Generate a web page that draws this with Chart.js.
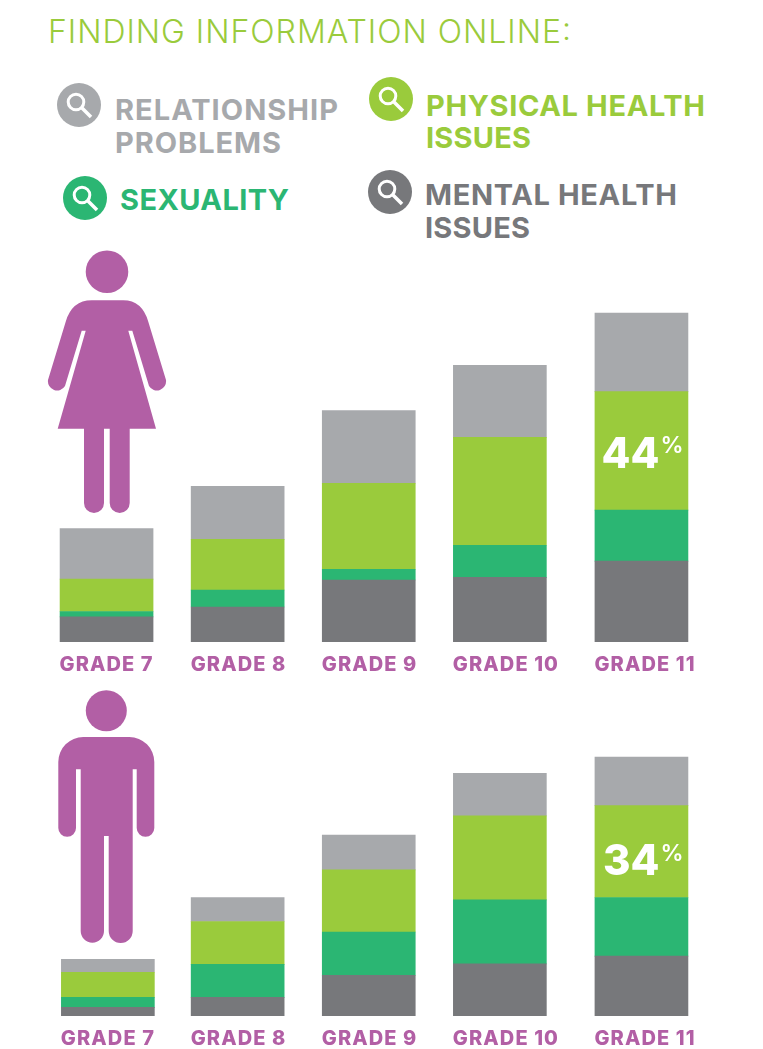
<!DOCTYPE html>
<html lang="en">
<head>
<meta charset="UTF-8">
<title>Finding information online</title>
<script src="https://cdn.jsdelivr.net/npm/chart.js"></script>
<style>
  html, body { margin: 0; padding: 0; background: #fff; overflow: hidden; }
  #page { position: relative; width: 763px; height: 1049px; overflow: hidden; }
  #page canvas { position: absolute; left: 0; }
  #art { position: absolute; left: 0; top: 0; }
  #art text { font-family: Inter, sans-serif; font-weight: 700; }
  #art .title { font-weight: 300; }
</style>
</head>
<body>
<div id="page">
  <svg id="art" width="763" height="1049">
    <defs>
      <g id="lens">
        <circle r="22" fill="currentColor"/>
        <circle cx="-3" cy="-3" r="7.8" fill="none" stroke="#fff" stroke-width="3"/>
        <path d="M3 3 L12 12" stroke="#fff" stroke-width="3.6" fill="none"/>
      </g>
    </defs>

    <text class="title" x="48" y="43" font-size="32" fill="#9acb3c" textLength="523" lengthAdjust="spacing">FINDING INFORMATION ONLINE:</text>

    <use href="#lens" x="79" y="105" color="#a7a9ac"/>
    <text x="115" y="120" font-size="29" fill="#a7a9ac" textLength="223" lengthAdjust="spacing">RELATIONSHIP</text>
    <text x="115" y="153" font-size="29" fill="#a7a9ac" textLength="166" lengthAdjust="spacing">PROBLEMS</text>

    <use href="#lens" x="391" y="99" color="#9acb3c"/>
    <text x="426" y="116" font-size="29" fill="#9acb3c" textLength="279" lengthAdjust="spacing">PHYSICAL HEALTH</text>
    <text x="426" y="148" font-size="29" fill="#9acb3c" textLength="105" lengthAdjust="spacing">ISSUES</text>

    <use href="#lens" x="85" y="198" color="#2bb673"/>
    <text x="120" y="210" font-size="29" fill="#2bb673" textLength="169" lengthAdjust="spacing">SEXUALITY</text>

    <use href="#lens" x="390" y="192" color="#77787b"/>
    <text x="425" y="205" font-size="29" fill="#77787b" textLength="252" lengthAdjust="spacing">MENTAL HEALTH</text>
    <text x="425" y="238" font-size="29" fill="#77787b" textLength="105" lengthAdjust="spacing">ISSUES</text>

    <!-- girl -->
    <circle cx="107" cy="271.7" r="21.3" fill="#b25fa5"/>
    <path fill="#b25fa5" d="M91.7 300.3 H123.3 Q142 300.3 148.3 321.7 L166 380 A9.2 9.2 0 0 1 149 386 L132.3 330.7 H128.3 L156 428.7 H129.7 V503 A10 10 0 0 1 109.7 503 V428.7 H104 V503 A10 10 0 0 1 84 503 V428.7 H57.7 L85.7 330.7 H81.7 L65 386 A9.2 9.2 0 0 1 48 380 L65.7 321.7 Q72 300.3 91.7 300.3 Z"/>

    <!-- boy -->
    <circle cx="106.3" cy="710.7" r="20.5" fill="#b25fa5"/>
    <path fill="#b25fa5" d="M83.3 737 H129.3 A25 25 0 0 1 154.3 762 V828 A8.8 8.8 0 0 1 136.7 828 V769.3 H132.7 V931 A12 12 0 0 1 108.7 931 V836 H104 V931 A11.65 11.65 0 0 1 80.7 931 V769.3 H76 V828 A8.85 8.85 0 0 1 58.3 828 V762 A25 25 0 0 1 83.3 737 Z"/>
  </svg>

  <canvas id="girlsChart" width="763" height="376" style="top:304px"></canvas>
  <canvas id="boysChart" width="763" height="303" style="top:746px"></canvas>
</div>

<script>
  const grades = ["GRADE 7", "GRADE 8", "GRADE 9", "GRADE 10", "GRADE 11"];
  const seriesNames = ["Mental health issues", "Sexuality", "Physical health issues", "Relationship problems"];

  // percent of students, stacked bottom to top
  const girlsMental = [9.3, 13, 23, 24, 30];
  const girlsSexuality = [2, 6.3, 4, 11.9, 18.9];
  const girlsPhysical = [12, 18.8, 31.9, 40, 44];
  const girlsRelationship = [18.8, 19.7, 27, 26.7, 29.1];

  const boysMental = [3.2, 6.9, 15.1, 19.3, 22.2];
  const boysSexuality = [3.7, 12.2, 16, 23.7, 21.7];
  const boysPhysical = [9.3, 15.9, 23, 31.1, 34];
  const boysRelationship = [4.8, 8.9, 12.9, 15.8, 18];

  // grade 11 sits a little further along in the original
  const girlsSlots = [0, 1, 2, 3, 4.08];
  const boysSlots = [0.01, 1, 2, 3, 4.08];

  const colors = ["#77787b", "#2bb673", "#9acb3c", "#a7a9ac"];
  const purple = "#b25fa5";

  // draws the white "44%" on the physical health part of grade 11
  const calloutPlugin = {
    id: "callout",
    beforeDraw(chart) {
      chart.ctx.letterSpacing = "1.1px"; // tick labels are wider in the original
    },
    afterDatasetsDraw(chart, args, opts) {
      const bar = chart.getDatasetMeta(2).data[4];
      const value = chart.data.datasets[2].data[4].y;
      const ctx = chart.ctx;
      ctx.save();
      ctx.letterSpacing = "0px";
      ctx.fillStyle = "#fff";
      ctx.textBaseline = "alphabetic";
      ctx.textAlign = "right";
      ctx.font = "800 42px Inter, sans-serif";
      ctx.fillText(Math.round(value), bar.x + 18, bar.y + opts.numberDy);
      ctx.textAlign = "left";
      ctx.font = "600 23px Inter, sans-serif";
      ctx.fillText("%", bar.x + 19, bar.y + opts.percentDy);
      ctx.restore();
    },
  };

  function makeChart(id, slots, rows, yMax, axisHeight, callout) {
    new Chart(document.getElementById(id), {
      type: "bar",
      data: {
        datasets: rows.map((values, s) => ({
          label: seriesNames[s],
          data: values.map((v, i) => ({ x: slots[i], y: v })),
          backgroundColor: colors[s],
          borderWidth: 0,
          barThickness: 93,
        })),
      },
      plugins: [calloutPlugin],
      options: {
        responsive: false,
        animation: false,
        layout: { padding: { left: 41, right: 56, top: 0, bottom: 0 } },
        plugins: {
          legend: { display: false },
          tooltip: { enabled: false },
          callout: callout,
        },
        scales: {
          x: {
            type: "linear",
            stacked: true,
            offset: false,
            min: -0.5,
            max: 4.58,
            grid: { display: false, drawTicks: false },
            border: { display: false },
            afterBuildTicks: (scale) => {
              scale.ticks = slots.map((value) => ({ value }));
            },
            afterFit: (scale) => {
              scale.height = axisHeight;
            },
            ticks: {
              callback: (value, i) => grades[i],
              autoSkip: false,
              maxRotation: 0,
              minRotation: 0,
              align: "start",
              labelOffset: -47,
              padding: 11,
              color: purple,
              font: { family: "Inter, sans-serif", weight: "800", size: 20 },
            },
          },
          y: {
            stacked: true,
            display: false,
            min: 0,
            max: yMax,
          },
        },
      },
    });
  }

  makeChart(
    "girlsChart",
    girlsSlots,
    [girlsMental, girlsSexuality, girlsPhysical, girlsRelationship],
    125.4,
    38,
    { numberDy: 76, percentDy: 61 }
  );
  makeChart(
    "boysChart",
    boysSlots,
    [boysMental, boysSexuality, boysPhysical, boysRelationship],
    100,
    33,
    { numberDy: 69, percentDy: 55 }
  );
</script>
</body>
</html>
